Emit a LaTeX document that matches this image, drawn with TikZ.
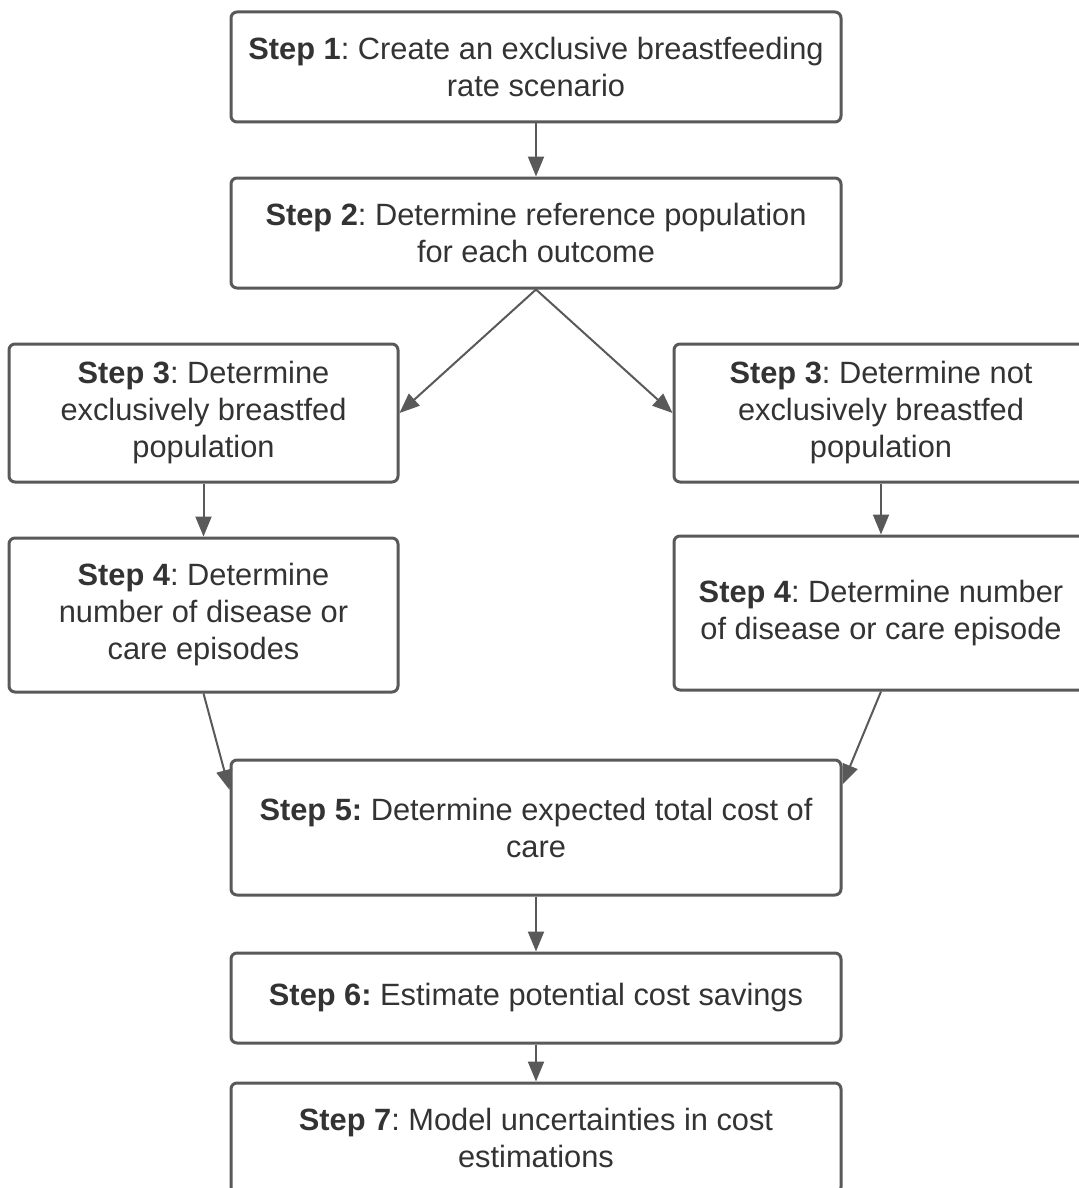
\documentclass[tikz,border=0pt]{standalone}
\usepackage{fontspec}
\setmainfont{Liberation Sans}
\usepackage{tikz}
\usetikzlibrary{arrows.meta}
\usetikzlibrary{positioning}
\frenchspacing

\definecolor{linegray}{HTML}{595959}
\definecolor{textgray}{HTML}{333333}

\tikzset{
  stepbox/.style={draw=linegray, line width=1.5pt, rounded corners=3pt, fill=white,
    align=center, text=textgray, inner sep=2pt,
    font=\fontsize{15.4}{18.5}\selectfont},
  flow/.style={draw=linegray, line width=1pt, -{Triangle[length=10pt,width=8pt]}}
}

\begin{document}
\begin{tikzpicture}[x=0.5pt, y=-0.5pt]
                  \useasboundingbox (0,0) rectangle (1079,1188);
                  % middle column
                  \node[stepbox, minimum width=305pt, minimum height=55pt] (s1) at (536,67) {\textbf{Step 1}: Create an exclusive breastfeeding\\rate scenario};
                  \node[stepbox, minimum width=305pt, minimum height=55pt] (s2) at (536,233) {\textbf{Step 2}: Determine reference population\\for each outcome};
                  % two branches
                  \node[stepbox, minimum width=194.5pt, minimum height=69pt] (s3a) at (203.5,413) {\textbf{Step 3}: Determine\\exclusively breastfed\\population};
                  \node[stepbox, minimum width=207pt, minimum height=69pt] (s3b) at (881,413) {\textbf{Step 3}: Determine not\\exclusively breastfed\\population};
                  \node[stepbox, minimum width=194.5pt, minimum height=77pt] (s4a) at (203.5,615) {\textbf{Step 4}: Determine\\number of disease or\\care episodes};
                  \node[stepbox, minimum width=207pt, minimum height=77pt] (s4b) at (881,613) {\textbf{Step 4}: Determine number\\of disease or care episode};
                  % joined again
                  \node[stepbox, minimum width=305pt, minimum height=67.5pt] (s5) at (536,827.5) {\textbf{Step 5:} Determine expected total cost of\\care};
                  \node[stepbox, minimum width=305pt, minimum height=45pt] (s6) at (536,998) {\textbf{Step 6:} Estimate potential cost savings};
                  \node[stepbox, minimum width=305pt, minimum height=55pt] (s7) at (536,1138) {\textbf{Step 7}: Model uncertainties in cost\\estimations};

                  \draw[flow] (s1.south) -- (s2.north);
                  \draw[flow] (s2.south) -- (s3a.east);
                  \draw[flow] (s2.south) -- (s3b.west);
                  \draw[flow] (s3a.south) -- (s4a.north);
                  \draw[flow] (s3b.south) -- (s4b.north);
                  \draw[flow] (s4a.south) -- (s5.173);
                  \draw[flow] (s4b.south) -- (s5.8);
                  \draw[flow] (s5.south) -- (s6.north);
                  \draw[flow] (s6.south) -- (s7.north);
              \end{tikzpicture}
\end{document}
